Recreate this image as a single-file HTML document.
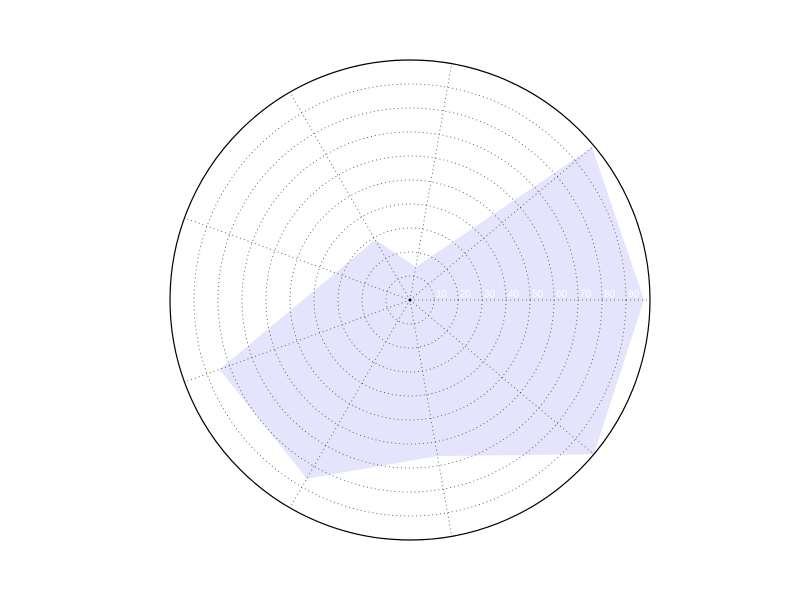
<!DOCTYPE html>
<html><head><meta charset="utf-8"><style>body{margin:0;background:#fff}svg{display:block}</style></head>
<body>
<svg id="chart" width="800" height="600" viewBox="0 0 800 600" xmlns="http://www.w3.org/2000/svg">
<g id="fillg"></g><g id="grid"></g><g id="labels"></g>
<circle cx="410" cy="300" r="240" fill="none" stroke="#000" stroke-width="1.2"/>
<circle cx="410" cy="300" r="1.5" fill="#000"/>
</svg>
<script>
const angles = [0, 40, 80, 120, 160, 200, 240, 280, 320];
const radii = [97.5, 99, 14, 29, 33, 84.5, 86, 66, 100];
const rTicks = [10, 20, 30, 40, 50, 60, 70, 80, 90, 100];
const thetaGrid = [0, 40, 80, 120, 160, 200, 240, 280, 320];
const CX = 410, CY = 300, R = 240, RMAX = 100;
const NS = 'http://www.w3.org/2000/svg';
function rs(v){return v / RMAX * R;}
function pt(a, v){const t=a*Math.PI/180;return [CX+rs(v)*Math.cos(t), CY-rs(v)*Math.sin(t)];}
const fillg=document.getElementById('fillg'), grid=document.getElementById('grid'), labels=document.getElementById('labels');
const poly=document.createElementNS(NS,'polygon');


poly.setAttribute('points', angles.map((a,i)=>pt(a,radii[i]).join(',')).join(' '));
poly.setAttribute('fill','rgb(228,228,252)');
fillg.appendChild(poly);
rTicks.forEach(v=>{
  if(v<RMAX){
    const c=document.createElementNS(NS,'circle');
    
    
    c.setAttribute('cx',CX);c.setAttribute('cy',CY);c.setAttribute('r',rs(v));
    c.setAttribute('fill','none');c.setAttribute('stroke','#444');c.setAttribute('stroke-width','0.8');c.setAttribute('stroke-dasharray','1,3');
    grid.appendChild(c);
  }
  const t=document.createElementNS(NS,'text');
  
  
  t.setAttribute('x',CX+rs(v)+2);t.setAttribute('y',CY-3);
  t.setAttribute('font-family','Liberation Sans, sans-serif');t.setAttribute('font-size','10');t.setAttribute('fill','#fff');
  t.textContent=v;
  labels.appendChild(t);
});
thetaGrid.forEach(a=>{
  const p=pt(a,RMAX);
  const l=document.createElementNS(NS,'line');
  
  
  l.setAttribute('x1',CX);l.setAttribute('y1',CY);l.setAttribute('x2',p[0]);l.setAttribute('y2',p[1]);
  l.setAttribute('stroke','#444');l.setAttribute('stroke-width','0.8');l.setAttribute('stroke-dasharray','1,3');
  grid.appendChild(l);
});
</script>
</body></html>
